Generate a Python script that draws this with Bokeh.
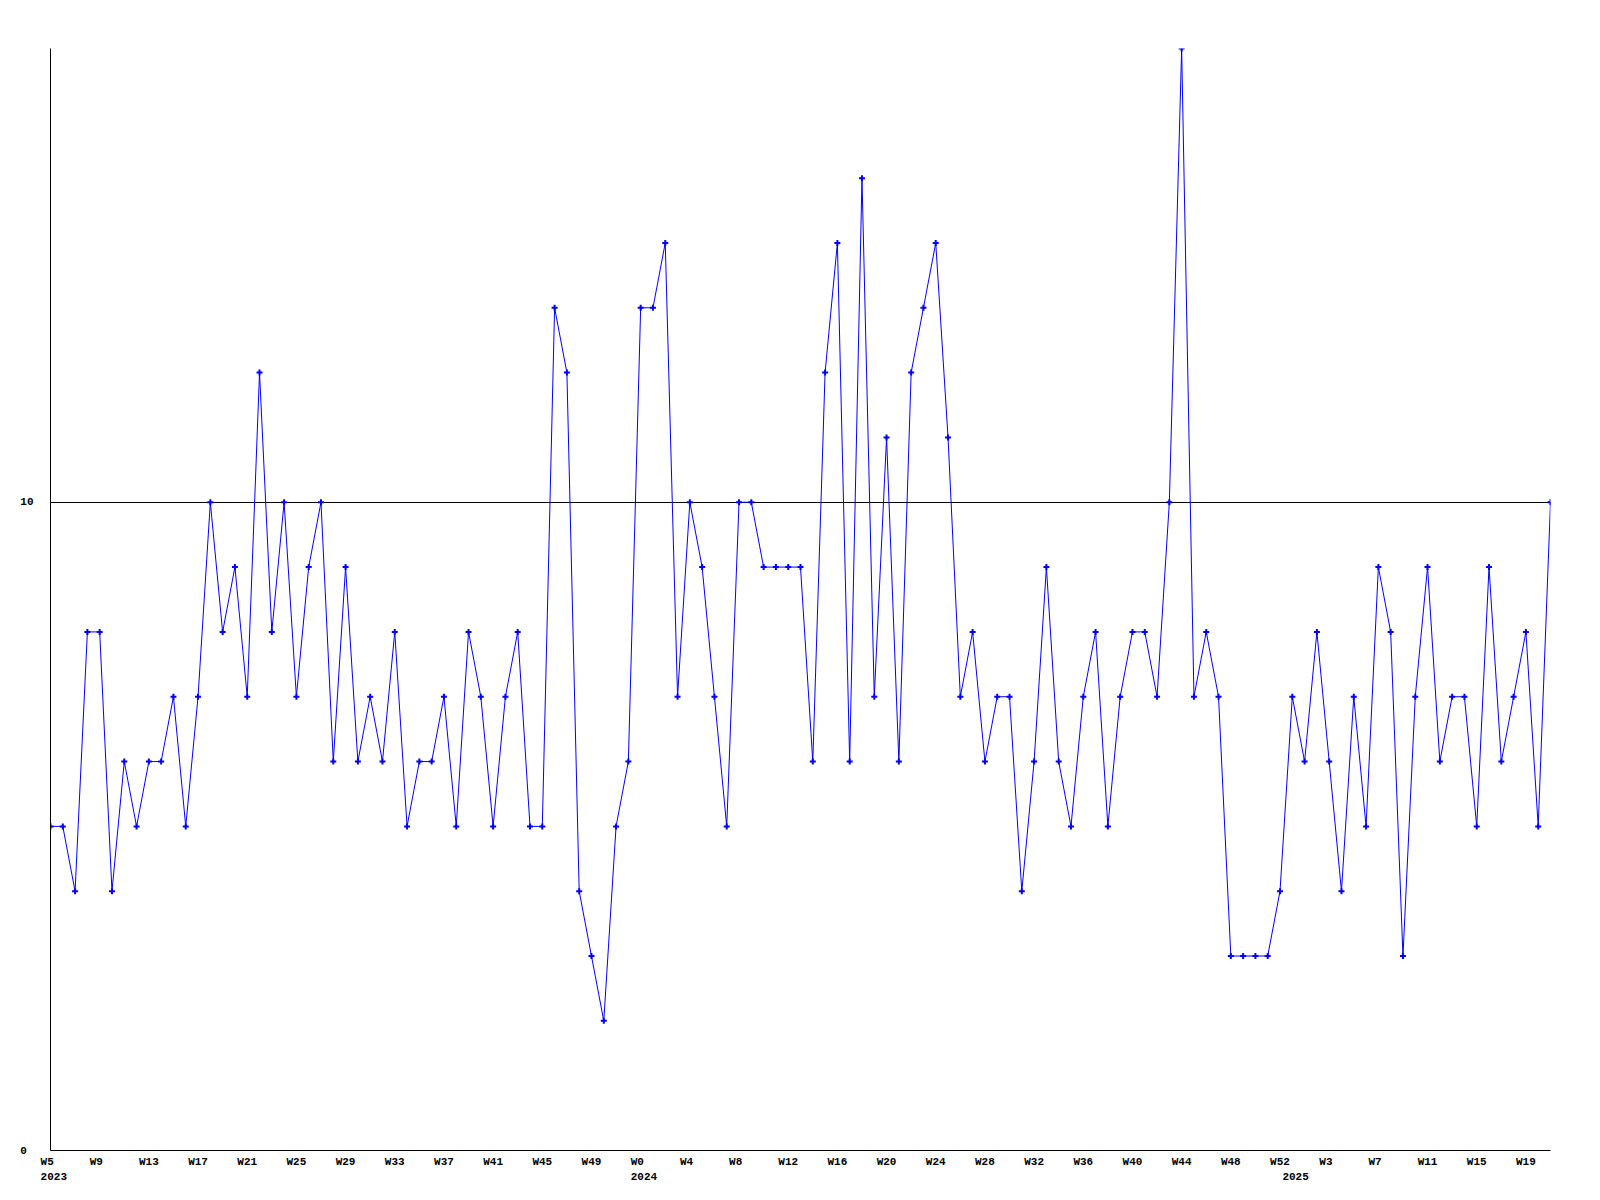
from bokeh.plotting import figure
from bokeh.models import Range1d, FixedTicker, LinearAxis, ColumnDataSource
from bokeh.embed import file_html
from bokeh.resources import INLINE

values = [5, 5, 4, 8, 8, 4, 6, 5, 6, 6, 7, 5, 7, 10, 8, 9, 7, 12, 8, 10,
          7, 9, 10, 6, 9, 6, 7, 6, 8, 5, 6, 6, 7, 5, 8, 7, 5, 7, 8, 5,
          5, 13, 12, 4, 3, 2, 5, 6, 13, 13, 14, 7, 10, 9, 7, 5, 10, 10, 9, 9,
          9, 9, 6, 12, 14, 6, 15, 7, 11, 6, 12, 13, 14, 11, 7, 8, 6, 7, 7, 4,
          6, 9, 6, 5, 7, 8, 5, 7, 8, 8, 7, 10, 17, 7, 8, 7, 3, 3, 3, 3,
          4, 7, 6, 8, 6, 4, 7, 5, 9, 8, 3, 7, 9, 6, 7, 7, 5, 9, 6, 7,
          8, 5, 10]
week_index = list(range(len(values)))

tick_labels = ["W5", "W9", "W13", "W17", "W21", "W25", "W29", "W33", "W37", "W41",
               "W45", "W49", "W0", "W4", "W8", "W12", "W16", "W20", "W24", "W28",
               "W32", "W36", "W40", "W44", "W48", "W52", "W3", "W7", "W11", "W15", "W19"]
tick_index = list(range(0, 4 * len(tick_labels), 4))

year_labels = ["2023", "2024", "2025"]
year_index = [0, 48, 101]

y_tick_values = [0, 10]
y_tick_labels = ["0", "10"]

FONT = "Liberation Mono"
BLUE = "#0000ff"
NBSP = "\u00a0"

p = figure(output_backend="svg", toolbar_location=None,
           frame_width=1500, frame_height=1102,
           min_border_left=50, min_border_right=40,
           min_border_top=48, min_border_bottom=40,
           x_range=Range1d(0, len(values) - 1), y_range=Range1d(0, 17))
p.outline_line_color = None
p.background_fill_color = "white"
p.border_fill_color = "white"


def style_axis(ax):
    ax.axis_line_color = "black"
    ax.axis_line_width = 1
    ax.major_tick_line_color = None
    ax.minor_tick_line_color = None
    ax.major_tick_out = 0
    ax.major_tick_in = 0
    ax.minor_tick_out = 0
    ax.minor_tick_in = 0
    ax.major_label_text_font = FONT
    ax.major_label_text_font_style = "bold"
    ax.major_label_text_font_size = "11px"
    ax.major_label_text_color = "black"


# week axis (labels left-aligned about 10px before their week)
xa = p.xaxis[0]
style_axis(xa)
xa.ticker = FixedTicker(ticks=tick_index)
xa.major_label_overrides = {i: (t + NBSP * (3 - len(t))) for i, t in zip(tick_index, tick_labels)}
xa.major_label_standoff = 5

# year axis
ya2 = LinearAxis()
style_axis(ya2)
ya2.axis_line_color = None
ya2.ticker = FixedTicker(ticks=year_index)
ya2.major_label_overrides = {i: NBSP + t for i, t in zip(year_index, year_labels)}
ya2.major_label_standoff = 0
p.add_layout(ya2, "below")

# y axis
yax = p.yaxis[0]
style_axis(yax)
yax.ticker = FixedTicker(ticks=y_tick_values)
yax.major_label_overrides = {v: (t + NBSP * (2 - len(t))) for v, t in zip(y_tick_values, y_tick_labels)}
yax.major_label_standoff = 17

p.xgrid.visible = False
p.ygrid.ticker = FixedTicker(ticks=[10])
p.ygrid.grid_line_color = "black"
p.ygrid.grid_line_alpha = 1.0
p.ygrid.grid_line_width = 1
p.ygrid.level = "underlay"

src = ColumnDataSource(dict(x=week_index, y=values))
p.line("x", "y", source=src, line_color=BLUE, line_width=1)
p.scatter("x", "y", source=src, marker="cross", size=6, line_color=BLUE, line_width=2)

open("out.html", "w").write(file_html(p, INLINE))
